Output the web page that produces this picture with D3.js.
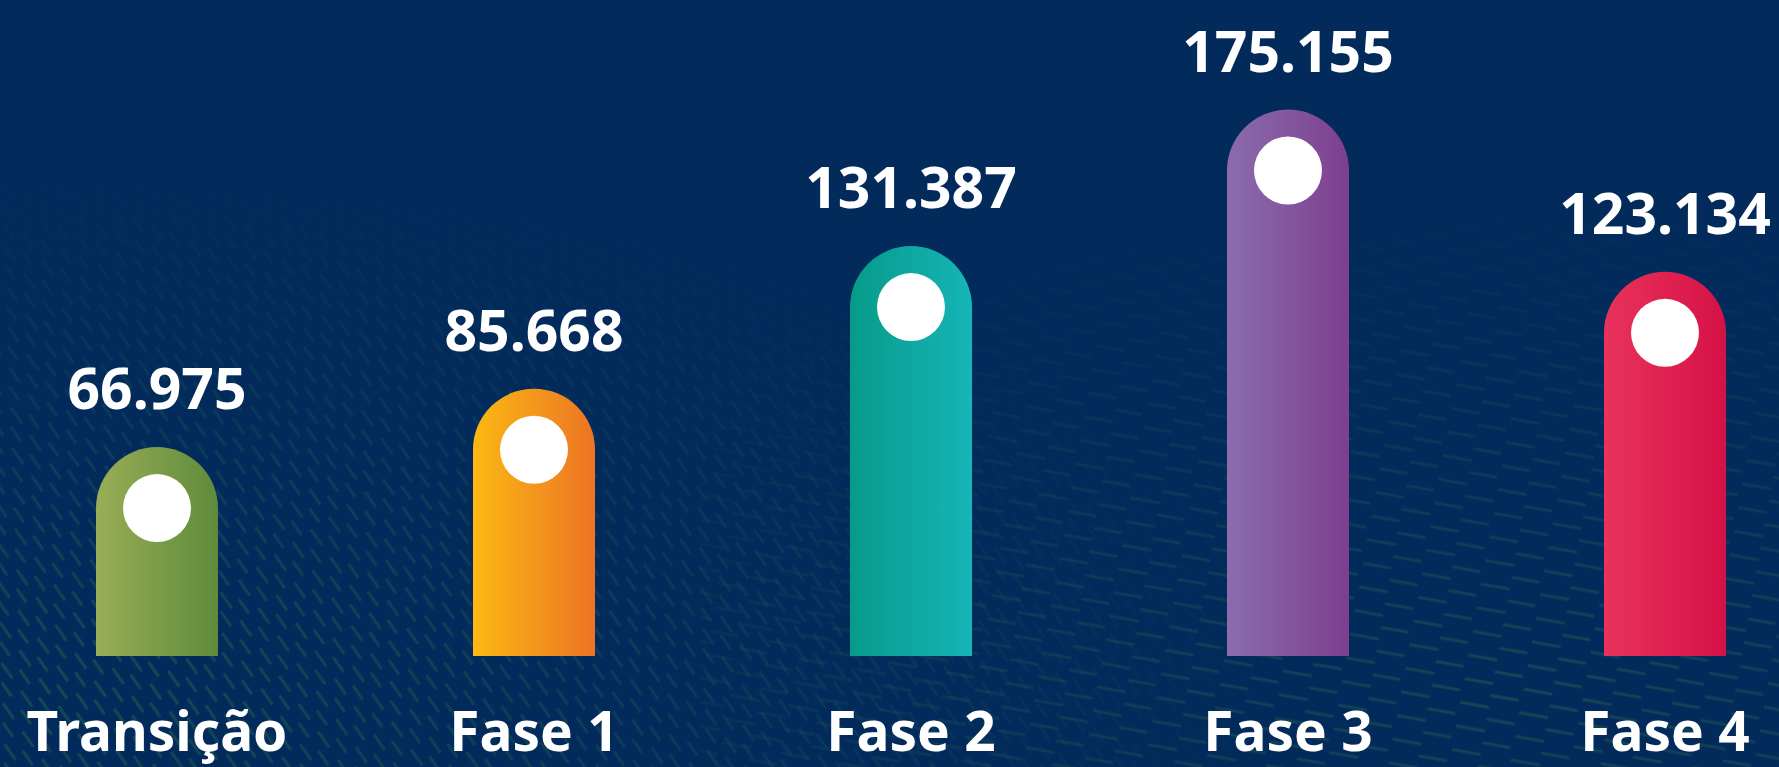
<!DOCTYPE html>
<html>
<head>
<meta charset="utf-8">
<script src="https://cdn.jsdelivr.net/npm/d3@7"></script>
<style>
  html, body { margin: 0; padding: 0; background: #022b5c; overflow: hidden; }
  svg { display: block; }
</style>
</head>
<body>
<svg id="chart" width="1779" height="767"></svg>
<script>
// ---- data ----
const categories = ["Transição", "Fase 1", "Fase 2", "Fase 3", "Fase 4"];
const values = [66975, 85668, 131387, 175155, 123134];
const valueLabels = ["66.975", "85.668", "131.387", "175.155", "123.134"];
const colorsLeft = ["#9aad56", "#fbb913", "#069a88", "#8b6cad", "#e9335b"];
const colorsRight = ["#5e8b3b", "#ec7424", "#17b5b9", "#7d3f8f", "#d51146"];

const W = 1779, H = 767;
const svg = d3.select("#chart");
const defs = svg.append("defs");

// background
svg.append("rect").attr("width", W).attr("height", H).attr("fill", "#022b5c");

// subtle dash texture
const pat = defs.append("pattern").attr("id", "dashes")
  .attr("patternUnits", "userSpaceOnUse").attr("width", 34).attr("height", 22)
  .attr("patternTransform", "rotate(55)");
pat.append("line").attr("x1", 0).attr("y1", 5).attr("x2", 18).attr("y2", 5)
  .attr("stroke", "#2a6a4e").attr("stroke-width", 3).attr("stroke-linecap", "round");
pat.append("line").attr("x1", 17).attr("y1", 16).attr("x2", 32).attr("y2", 16)
  .attr("stroke", "#2a6a4e").attr("stroke-width", 3).attr("stroke-linecap", "round");
const pat2 = defs.append("pattern").attr("id", "dashes2")
  .attr("patternUnits", "userSpaceOnUse").attr("width", 60).attr("height", 24)
  .attr("patternTransform", "rotate(10)");
pat2.append("line").attr("x1", 0).attr("y1", 6).attr("x2", 28).attr("y2", 6)
  .attr("stroke", "#2a6a4e").attr("stroke-width", 3).attr("stroke-linecap", "round");
pat2.append("line").attr("x1", 30).attr("y1", 18).attr("x2", 56).attr("y2", 18)
  .attr("stroke", "#2a6a4e").attr("stroke-width", 3).attr("stroke-linecap", "round");

const m1 = defs.append("radialGradient").attr("id", "fadeL")
  .attr("cx", 0.05).attr("cy", 0.9).attr("r", 0.7);
m1.append("stop").attr("offset", 0).attr("stop-color", "#fff").attr("stop-opacity", 0.5);
m1.append("stop").attr("offset", 1).attr("stop-color", "#fff").attr("stop-opacity", 0);
defs.append("mask").attr("id", "maskL").append("rect")
  .attr("width", W).attr("height", H).attr("fill", "url(#fadeL)");
const m2 = defs.append("radialGradient").attr("id", "fadeR")
  .attr("cx", 0.85).attr("cy", 0.9).attr("r", 0.65);
m2.append("stop").attr("offset", 0).attr("stop-color", "#fff").attr("stop-opacity", 0.45);
m2.append("stop").attr("offset", 1).attr("stop-color", "#fff").attr("stop-opacity", 0);
defs.append("mask").attr("id", "maskR").append("rect")
  .attr("width", W).attr("height", H).attr("fill", "url(#fadeR)");

svg.append("rect").attr("width", W).attr("height", H)
  .attr("fill", "url(#dashes)").attr("mask", "url(#maskL)");
svg.append("rect").attr("x", 700).attr("width", W - 700).attr("height", H)
  .attr("fill", "url(#dashes2)").attr("mask", "url(#maskR)");

// ---- scales ----
const x = d3.scalePoint().domain(categories).range([157, 1665]);
const y = d3.scaleLinear().domain([0, 200000]).range([656, 32]);
const barW = 122, r = barW / 2, dotR = 34;

const data = categories.map((c, i) => ({
  c, v: values[i], label: valueLabels[i], cl: colorsLeft[i], cr: colorsRight[i], i
}));

data.forEach(d => {
  const g = defs.append("linearGradient").attr("id", "grad" + d.i)
    .attr("x1", 0).attr("x2", 1).attr("y1", 0).attr("y2", 0);
  g.append("stop").attr("offset", 0).attr("stop-color", d.cl);
  g.append("stop").attr("offset", 1).attr("stop-color", d.cr);
});

function barPath(d) {
  const cx = x(d.c), top = y(d.v), bottom = y(0);
  const l = cx - r, rt = cx + r;
  return `M${l},${bottom} L${l},${top + r} A${r},${r} 0 0 1 ${rt},${top + r} L${rt},${bottom} Z`;
}

const bars = svg.append("g").selectAll("g").data(data).join("g");
bars.append("path").attr("d", barPath).attr("fill", d => `url(#grad${d.i})`);
bars.append("circle")
  .attr("cx", d => x(d.c)).attr("cy", d => y(d.v) + r)
  .attr("r", dotR).attr("fill", "#ffffff");

bars.append("text")
  .attr("x", d => x(d.c)).attr("y", d => y(d.v) - 38)
  .attr("text-anchor", "middle")
  .attr("font-family", "'Noto Sans', 'DejaVu Sans', sans-serif")
  .attr("font-weight", 700).attr("font-size", 57)
  .attr("fill", "#ffffff")
  .text(d => d.label);

bars.append("text")
  .attr("x", d => x(d.c)).attr("y", 751)
  .attr("text-anchor", "middle")
  .attr("font-family", "'Noto Sans', 'DejaVu Sans', sans-serif")
  .attr("font-weight", 700).attr("font-size", 55)
  .attr("fill", "#ffffff")
  .text(d => d.c);
</script>
</body>
</html>
